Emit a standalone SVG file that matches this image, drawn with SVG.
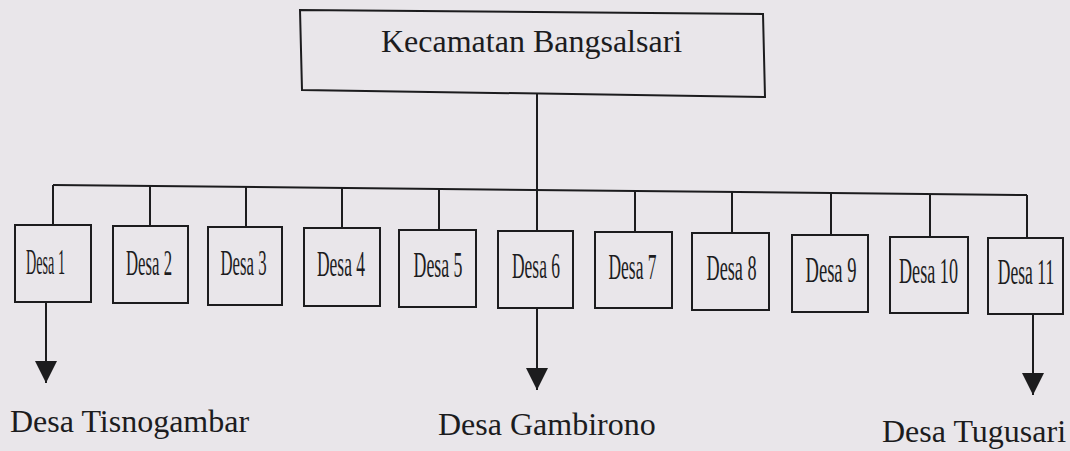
<svg xmlns="http://www.w3.org/2000/svg" width="1070" height="451" viewBox="0 0 1070 451">
<defs>
<style>
.box{fill:none;stroke:#1c1c1e;stroke-width:2}
.ln{fill:none;stroke:#1c1c1e;stroke-width:2}
.t{font-family:"Liberation Serif","Times New Roman",serif;fill:#1c1c1e}
.big{font-size:32px}
.small{font-size:35px;text-anchor:middle}
</style>
<marker id="ah" markerUnits="userSpaceOnUse" markerWidth="22" markerHeight="22" refX="22" refY="11" orient="auto">
<path d="M0,0 L22,11 L0,22 Z" fill="#1c1c1e"/>
</marker>
</defs>
<rect width="1070" height="451" fill="#e9e6ea"/>
<g id="kecamatan">
<path class="box" d="M300,10 L763,14 L765,97 L302,90 Z"/>
<text class="t big" x="381" y="52">Kecamatan Bangsalsari</text>
</g>
<g id="connectors">
<line class="ln" x1="537" y1="94" x2="537" y2="188"/>
<line class="ln" x1="53" y1="185" x2="1027" y2="195"/>
<line class="ln" x1="53" y1="185" x2="53" y2="225"/>
<line class="ln" x1="150" y1="186" x2="150" y2="226"/>
<line class="ln" x1="246" y1="187" x2="246" y2="227"/>
<line class="ln" x1="342" y1="188" x2="342" y2="228"/>
<line class="ln" x1="439" y1="189" x2="439" y2="230"/>
<line class="ln" x1="537" y1="188" x2="537" y2="231"/>
<line class="ln" x1="635" y1="191" x2="635" y2="232"/>
<line class="ln" x1="732" y1="192" x2="732" y2="233"/>
<line class="ln" x1="831" y1="193" x2="831" y2="235"/>
<line class="ln" x1="930" y1="194" x2="930" y2="237"/>
<line class="ln" x1="1027" y1="195" x2="1027" y2="238"/>
<line class="ln" x1="46" y1="302" x2="46" y2="383" marker-end="url(#ah)"/>
<line class="ln" x1="537" y1="308" x2="537" y2="390" marker-end="url(#ah)"/>
<line class="ln" x1="1033" y1="314" x2="1033" y2="395" marker-end="url(#ah)"/>
</g>
<g id="desa1"><rect class="box" x="15" y="225" width="76" height="77"/><text class="t small" transform="translate(45.5,274) scale(0.405,1)">Desa 1</text></g>
<g id="desa2"><rect class="box" x="113" y="226" width="75" height="77"/><text class="t small" transform="translate(149,275) scale(0.478,1)">Desa 2</text></g>
<g id="desa3"><rect class="box" x="208" y="227" width="74" height="78"/><text class="t small" transform="translate(243.5,275) scale(0.478,1)">Desa 3</text></g>
<g id="desa4"><rect class="box" x="304" y="228" width="76" height="78"/><text class="t small" transform="translate(341,276) scale(0.499,1)">Desa 4</text></g>
<g id="desa5"><rect class="box" x="399" y="230" width="77" height="77"/><text class="t small" transform="translate(438,277) scale(0.509,1)">Desa 5</text></g>
<g id="desa6"><rect class="box" x="498" y="231" width="75" height="77"/><text class="t small" transform="translate(536,278) scale(0.499,1)">Desa 6</text></g>
<g id="desa7"><rect class="box" x="595" y="232" width="77" height="76"/><text class="t small" transform="translate(632.5,279) scale(0.499,1)">Desa 7</text></g>
<g id="desa8"><rect class="box" x="692" y="233" width="77" height="77"/><text class="t small" transform="translate(731.5,280) scale(0.52,1)">Desa 8</text></g>
<g id="desa9"><rect class="box" x="792" y="235" width="76" height="77"/><text class="t small" transform="translate(831,282) scale(0.53,1)">Desa 9</text></g>
<g id="desa10"><rect class="box" x="890" y="237" width="78" height="76"/><text class="t small" transform="translate(928.5,283) scale(0.519,1)">Desa 10</text></g>
<g id="desa11"><rect class="box" x="988" y="238" width="75" height="76"/><text class="t small" transform="translate(1026,284) scale(0.501,1)">Desa 11</text></g>
<g id="tisnogambar"><text class="t big" x="10" y="432">Desa Tisnogambar</text></g>
<g id="gambirono"><text class="t big" x="438" y="435">Desa Gambirono</text></g>
<g id="tugusari"><text class="t big" x="882" y="442">Desa Tugusari</text></g>
</svg>
